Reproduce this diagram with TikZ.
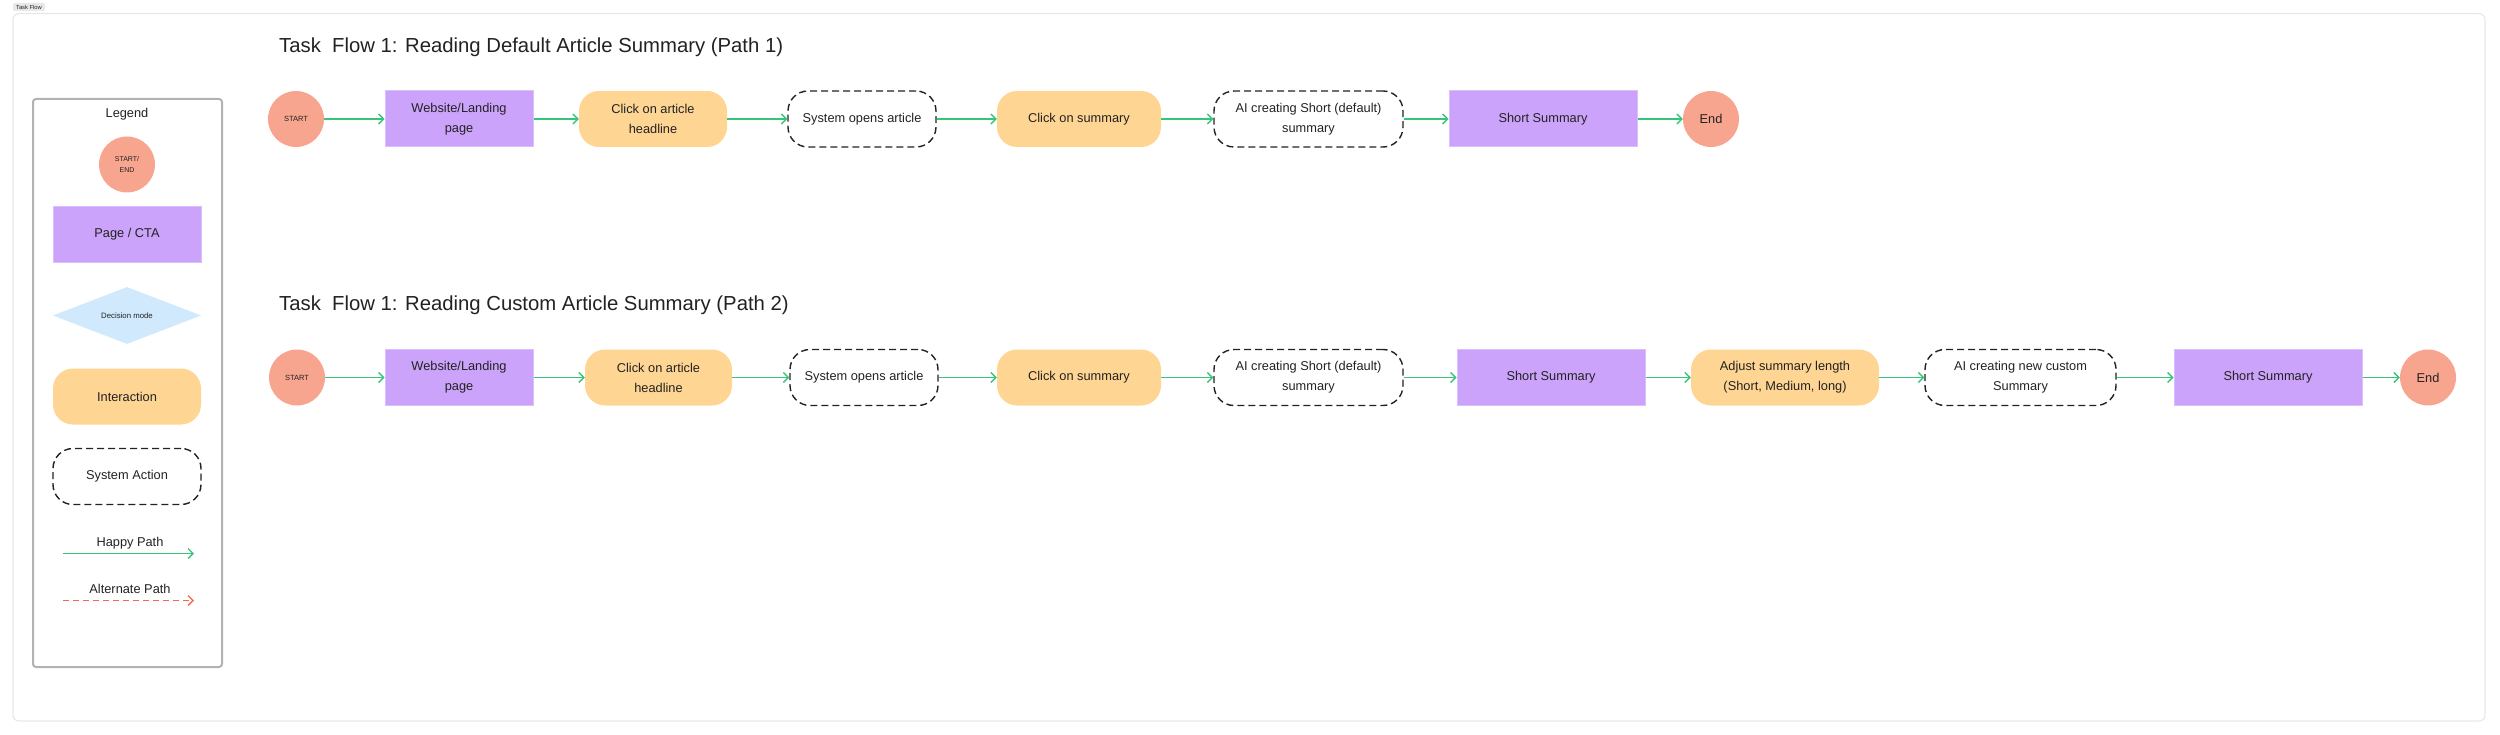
\documentclass[tikz,border=0pt]{standalone}
\usepackage{fontspec}
\setmainfont{Liberation Sans}
\usetikzlibrary{arrows.meta,shapes.geometric}

\definecolor{salmon}{RGB}{248,165,143}
\definecolor{lilac}{RGB}{204,163,251}
\definecolor{peach}{RGB}{255,213,148}
\definecolor{skyblue}{RGB}{208,233,252}
\definecolor{flowgreen}{RGB}{56,196,122}
\definecolor{altred}{RGB}{243,104,80}
\definecolor{ink}{RGB}{34,34,34}
\definecolor{framegray}{RGB}{232,232,232}

\begin{document}
\begin{tikzpicture}[x=1pt, y=-1pt,
    every node/.style={text=ink, font=\fontsize{12.8}{20}\selectfont},
    startend/.style={circle, fill=salmon, minimum size=56pt, inner sep=0pt, align=center},
    page/.style={rectangle, fill=lilac, draw=lilac!70!white, line width=1pt, minimum width=148pt, minimum height=56pt, inner sep=0pt, align=center},
    action/.style={rectangle, rounded corners=20pt, fill=peach, minimum width=148pt, minimum height=56pt, inner sep=0pt, align=center},
    sysbox/.style={rectangle, rounded corners=20pt, draw=ink, dash pattern=on 7pt off 4pt, line width=1.4pt, minimum width=148pt, minimum height=56pt, inner sep=0pt, align=center},
    flow/.style={draw=flowgreen, line width=1.4pt, -{Straight Barb[length=5pt,width=10pt]}},
    title/.style={anchor=west, inner sep=0pt, font=\fontsize{20.3}{24}\selectfont}]

    \useasboundingbox (0,0) rectangle (2500,735);

    % 枠
    \draw[framegray, line width=1.2pt, rounded corners=6pt] (13,13.5) rectangle (2485,721);
    \node[fill=framegray, rounded corners=2pt, minimum width=32pt, minimum height=8pt, inner sep=0pt, font=\fontsize{5.8}{6}\selectfont] (TAG) at (29,7) {Task Flow};

    % 凡例
    \draw[black!30, line width=2pt, fill=white, rounded corners=3pt] (33,99) rectangle (222,667);
    \node (LG) at (127,114) {Legend};
    \node[startend, font=\fontsize{7}{11}\selectfont] (LSE) at (127,164.5) {START/\\END};
    \node[page] (LPG) at (127,234.5) {Page / CTA};
    \node[diamond, fill=skyblue, minimum width=148pt, minimum height=57pt, shape aspect=2.6, inner sep=0pt, font=\fontsize{7.8}{9}\selectfont] (LDM) at (127,315.5) {Decision mode};
    \node[action] (LIA) at (127,396.5) {Interaction};
    \node[sysbox] (LSA) at (127,476.5) {System Action};
    \node (LHP) at (130,543) {Happy Path};
    \coordinate (HPA) at (63,553.5);
    \coordinate (HPB) at (194,553.5);
    \draw[flow] (HPA) -- (HPB);
    \node (LAP) at (130,589) {Alternate Path};
    \coordinate (APA) at (63,600.5);
    \coordinate (APB) at (194,600.5);
    \draw[flow, draw=altred, dash pattern=on 6pt off 4pt] (APA) -- (APB);

    % パス1
    \node[title] (T1) at (279,47) {Task\ \ Flow 1: Reading Default Article Summary (Path 1)};
    \node[startend, font=\fontsize{7.5}{9}\selectfont] (S1) at (296,119) {START};
    \node[page] (W1) at (459,119) {Website/Landing\\page};
    \node[action] (H1) at (653,119) {Click on article\\headline};
    \node[sysbox] (O1) at (862,119) {System opens article};
    \node[action, minimum width=164pt] (C1) at (1079,119) {Click on summary};
    \node[sysbox, minimum width=189pt] (A1) at (1308.5,119) {AI creating Short (default)\\summary};
    \node[page, minimum width=188pt] (R1) at (1543,119) {Short Summary};
    \node[startend] (E1) at (1711,119) {End};

    \draw[flow] (S1) -- (W1);
    \draw[flow] (W1) -- (H1);
    \draw[flow] (H1) -- (O1);
    \draw[flow] (O1) -- (C1);
    \draw[flow] (C1) -- (A1);
    \draw[flow] (A1) -- (R1);
    \draw[flow] (R1) -- (E1);

    % パス2
    \node[title] (T2) at (279,305) {Task\ \ Flow 1: Reading Custom Article Summary (Path 2)};
    \node[startend, font=\fontsize{7.5}{9}\selectfont] (S2) at (297,377.5) {START};
    \node[page] (W2) at (459,377.5) {Website/Landing\\page};
    \node[action, minimum width=147pt] (H2) at (658.5,377.5) {Click on article\\headline};
    \node[sysbox] (O2) at (864,377.5) {System opens article};
    \node[action, minimum width=164pt] (C2) at (1079,377.5) {Click on summary};
    \node[sysbox, minimum width=189pt] (A2) at (1308.5,377.5) {AI creating Short (default)\\summary};
    \node[page, minimum width=188pt] (R2) at (1551,377.5) {Short Summary};
    \node[action, minimum width=188pt] (J2) at (1785,377.5) {Adjust summary length\\(Short, Medium, long)};
    \node[sysbox, minimum width=191pt] (N2) at (2020.5,377.5) {AI creating new custom\\Summary};
    \node[page, minimum width=188pt] (R3) at (2268,377.5) {Short Summary};
    \node[startend] (E2) at (2428,377.5) {End};

    \draw[flow] (S2) -- (W2);
    \draw[flow] (W2) -- (H2);
    \draw[flow] (H2) -- (O2);
    \draw[flow] (O2) -- (C2);
    \draw[flow] (C2) -- (A2);
    \draw[flow] (A2) -- (R2);
    \draw[flow] (R2) -- (J2);
    \draw[flow] (J2) -- (N2);
    \draw[flow] (N2) -- (R3);
    \draw[flow] (R3) -- (E2);
\end{tikzpicture}
\end{document}
